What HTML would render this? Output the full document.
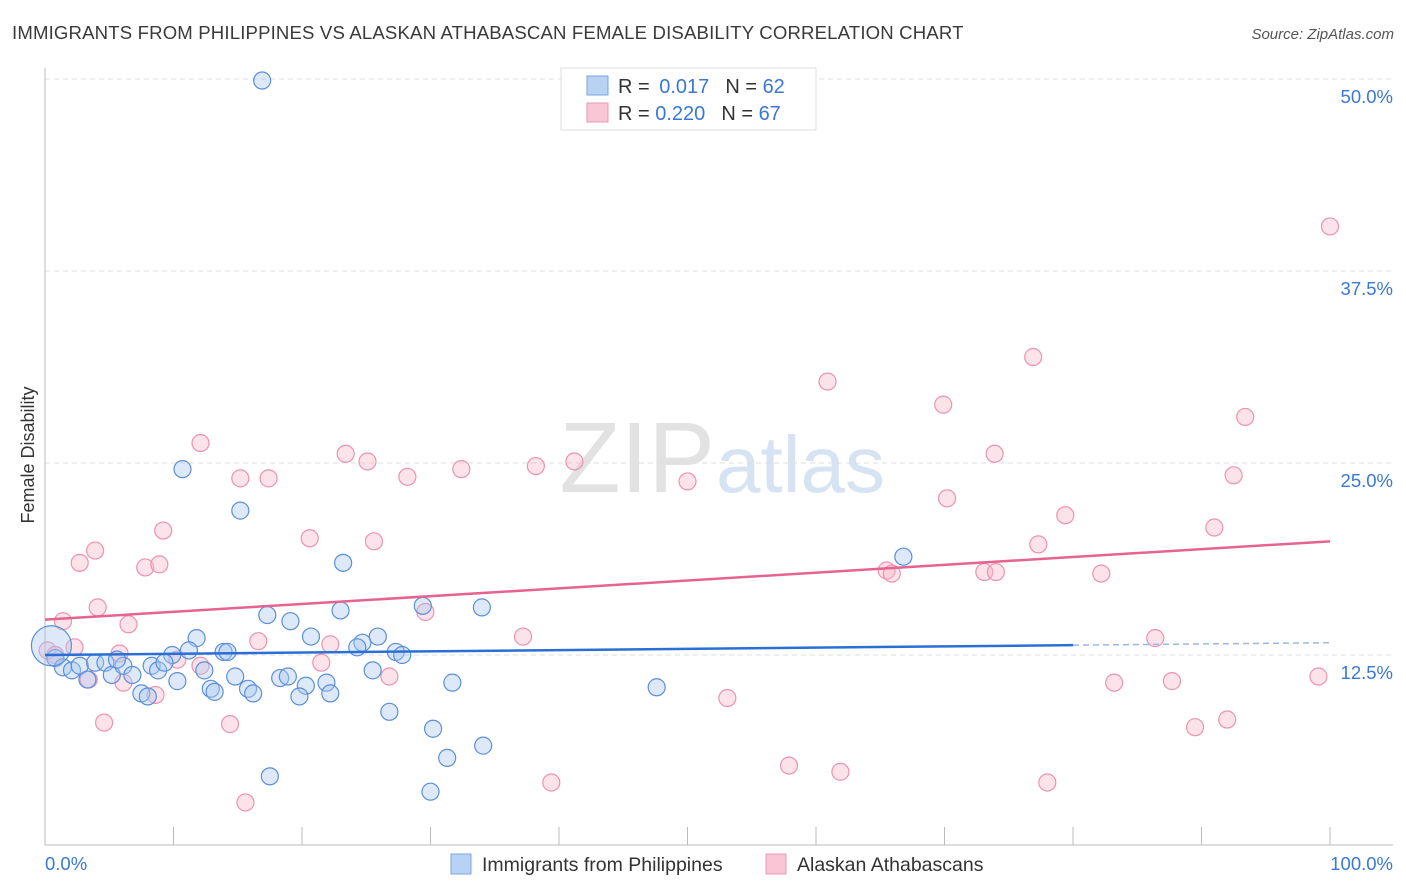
<!DOCTYPE html>
<html><head><meta charset="utf-8"><style>
body{margin:0;background:#fff;font-family:"Liberation Sans",sans-serif;}
#wrap{position:relative;width:1406px;height:892px;overflow:hidden;}
svg text{font-family:"Liberation Sans",sans-serif;}
</style></head><body>
<div id="wrap">
<svg id="chart" width="1406" height="892">
<text x="12" y="39" font-size="18.6" fill="#3a3a3a" letter-spacing="0.15">IMMIGRANTS FROM PHILIPPINES VS ALASKAN ATHABASCAN FEMALE DISABILITY CORRELATION CHART</text>
<text x="1394" y="39" font-size="15" fill="#555" font-style="italic" text-anchor="end">Source: ZipAtlas.com</text>
<text x="715" y="492" font-size="100" fill="#e2e2e2" text-anchor="end" font-family="Liberation Serif">ZIP</text>
<text x="716" y="492" font-size="80" fill="#d6e3f3">atlas</text>
<g id="grid"></g>
<line x1="45" y1="68" x2="45" y2="845" stroke="#bbb"/>
<line x1="45" y1="845" x2="1393" y2="845" stroke="#bbb"/>
<g id="ticks"></g>
<text transform="translate(34,455) rotate(-90)" font-size="18" fill="#333" text-anchor="middle">Female Disability</text>
<text x="45" y="870" font-size="18.5" fill="#3a78d4">0.0%</text>
<text x="1393" y="870" font-size="18.5" fill="#3a78d4" text-anchor="end">100.0%</text>
<g id="pts"></g>
<g id="lines"></g>
<g>
<rect x="561" y="68" width="255" height="62" fill="#fff" stroke="#ddd"/>
<rect x="587" y="76" width="21" height="19" fill="#b8d2f4" stroke="#7aa6e0"/>
<rect x="587" y="103" width="21" height="19" fill="#f9c6d5" stroke="#ec98b3"/>
<text x="618" y="93" font-size="20" fill="#333">R = <tspan fill="#3a78d4" dx="4">0.017</tspan><tspan dx="16">N = </tspan><tspan fill="#3a78d4">62</tspan></text>
<text x="618" y="120" font-size="20" fill="#333">R = <tspan fill="#3a78d4">0.220</tspan><tspan dx="16">N = </tspan><tspan fill="#3a78d4">67</tspan></text>
</g>
<g>
<rect x="451" y="854" width="20" height="20" fill="#b8d2f4" stroke="#7aa6e0"/>
<text x="482" y="871" font-size="19.5" fill="#333">Immigrants from Philippines</text>
<rect x="766" y="854" width="20" height="20" fill="#f9c6d5" stroke="#ec98b3"/>
<text x="797" y="871" font-size="19.5" fill="#333">Alaskan Athabascans</text>
</g>
</svg>
</div>
<script>
const yTicks=[12.5,25.0,37.5,50.0];
const yTickLabels=["12.5%","25.0%","37.5%","50.0%"];
const xTicks=[0,10,20,30,40,50,60,70,80,90,100];
const blueX=[16.9,10.7,15.2,23.2,66.8,17.3,19.1,23.0,29.4,34.0,11.8,20.7,25.9,24.7,24.3,13.9,14.2,11.2,9.9,27.3,27.8,0.8,1.4,2.1,2.7,3.3,3.9,4.7,5.2,6.1,6.8,5.6,8.3,8.8,9.3,10.3,7.5,8.0,12.4,12.9,13.2,14.8,15.8,16.2,18.3,18.9,20.3,19.8,21.9,22.2,25.5,26.8,31.7,30.2,31.3,34.1,17.5,30.0,47.6,0.5];
const blueY=[49.9,24.6,21.9,18.5,18.9,15.1,14.7,15.4,15.7,15.6,13.6,13.7,13.7,13.3,13.0,12.7,12.7,12.8,12.5,12.7,12.5,12.3,11.7,11.5,11.8,10.9,12.0,12.0,11.2,11.8,11.2,12.2,11.8,11.5,12.0,10.8,10.0,9.8,11.5,10.3,10.1,11.1,10.3,10.0,11.0,11.1,10.5,9.8,10.7,10.0,11.5,8.8,10.7,7.7,5.8,6.6,4.6,3.6,10.4,13.1];
const pinkX=[100,76.9,60.9,69.9,93.4,12.1,23.4,25.1,73.9,38.2,41.2,32.4,15.2,17.4,28.2,50.0,92.5,70.2,79.4,9.2,91.0,20.6,25.6,77.3,3.9,2.7,7.8,8.9,65.5,65.9,73.1,74.0,82.2,4.1,1.4,6.5,29.6,37.2,16.6,22.2,2.3,86.4,0.2,0.8,5.8,10.3,12.1,21.5,6.1,3.4,26.8,8.6,53.1,83.2,87.7,99.1,4.6,14.4,92.0,89.5,57.9,61.9,39.4,78.0,15.6];
const pinkY=[40.4,31.9,30.3,28.8,28.0,26.3,25.6,25.1,25.6,24.8,25.1,24.6,24.0,24.0,24.1,23.8,24.2,22.7,21.6,20.6,20.8,20.1,19.9,19.7,19.3,18.5,18.2,18.4,18.0,17.8,17.9,17.9,17.8,15.6,14.7,14.5,15.3,13.7,13.4,13.2,13.0,13.6,12.8,12.5,12.6,12.2,11.8,12.0,10.7,10.9,11.1,9.9,9.7,10.7,10.8,11.1,8.1,8.0,8.3,7.8,5.3,4.9,4.2,4.2,2.9];
const blueTrend=[12.5,13.3];
const pinkTrend=[14.8,19.9];
const NS="http://www.w3.org/2000/svg";
const X=v=>45+v*12.85;
const Y=v=>847-v*15.36;
function mk(tag,attrs,parent){const e=document.createElementNS(NS,tag);for(const k in attrs)e.setAttribute(k,attrs[k]);parent.appendChild(e);return e;}
const grid=document.getElementById('grid');
yTicks.forEach((t,i)=>{
  const l=mk('line',{x1:45,x2:1393,y1:Y(t),y2:Y(t),stroke:'#ddd','stroke-dasharray':'5,4'},grid);
  
  
  const tx=mk('text',{x:1393,y:Y(t)+24,'font-size':18.5,fill:'#3a78d4','text-anchor':'end'},grid);
  tx.textContent=yTickLabels[i];
  
  
});
const ticks=document.getElementById('ticks');
xTicks.forEach(t=>{
  const l=mk('line',{x1:X(t),x2:X(t),y1:827,y2:845,stroke:'#bbb'},ticks);
  
  
});
const pts=document.getElementById('pts');
pinkX.forEach((x,i)=>{
  const c=mk('circle',{cx:X(x),cy:Y(pinkY[i]),r:8.5,fill:'rgba(247,182,201,0.4)',stroke:'#eb93b0','stroke-width':1.2},pts);
  
  
});
blueX.forEach((x,i)=>{
  const r=(i===blueX.length-1)?20:8.5;
  const c=mk('circle',{cx:X(x),cy:Y(blueY[i]),r:r,fill:'rgba(169,200,240,0.4)',stroke:'#5b8fd9','stroke-width':1.2},pts);
  
  
});
const lines=document.getElementById('lines');
const bAt=v=>blueTrend[0]+(blueTrend[1]-blueTrend[0])*v/100;
let l1=mk('line',{x1:X(0),y1:Y(bAt(0)),x2:X(80),y2:Y(bAt(80)),stroke:'#2a6fd6','stroke-width':2.5},lines);


let l2=mk('line',{x1:X(80),y1:Y(bAt(80)),x2:X(100),y2:Y(bAt(100)),stroke:'#9bb8e0','stroke-width':1.5,'stroke-dasharray':'6,4'},lines);


let l3=mk('line',{x1:X(0),y1:Y(pinkTrend[0]),x2:X(100),y2:Y(pinkTrend[1]),stroke:'#e5638e','stroke-width':2.5},lines);


</script>
</body></html>
